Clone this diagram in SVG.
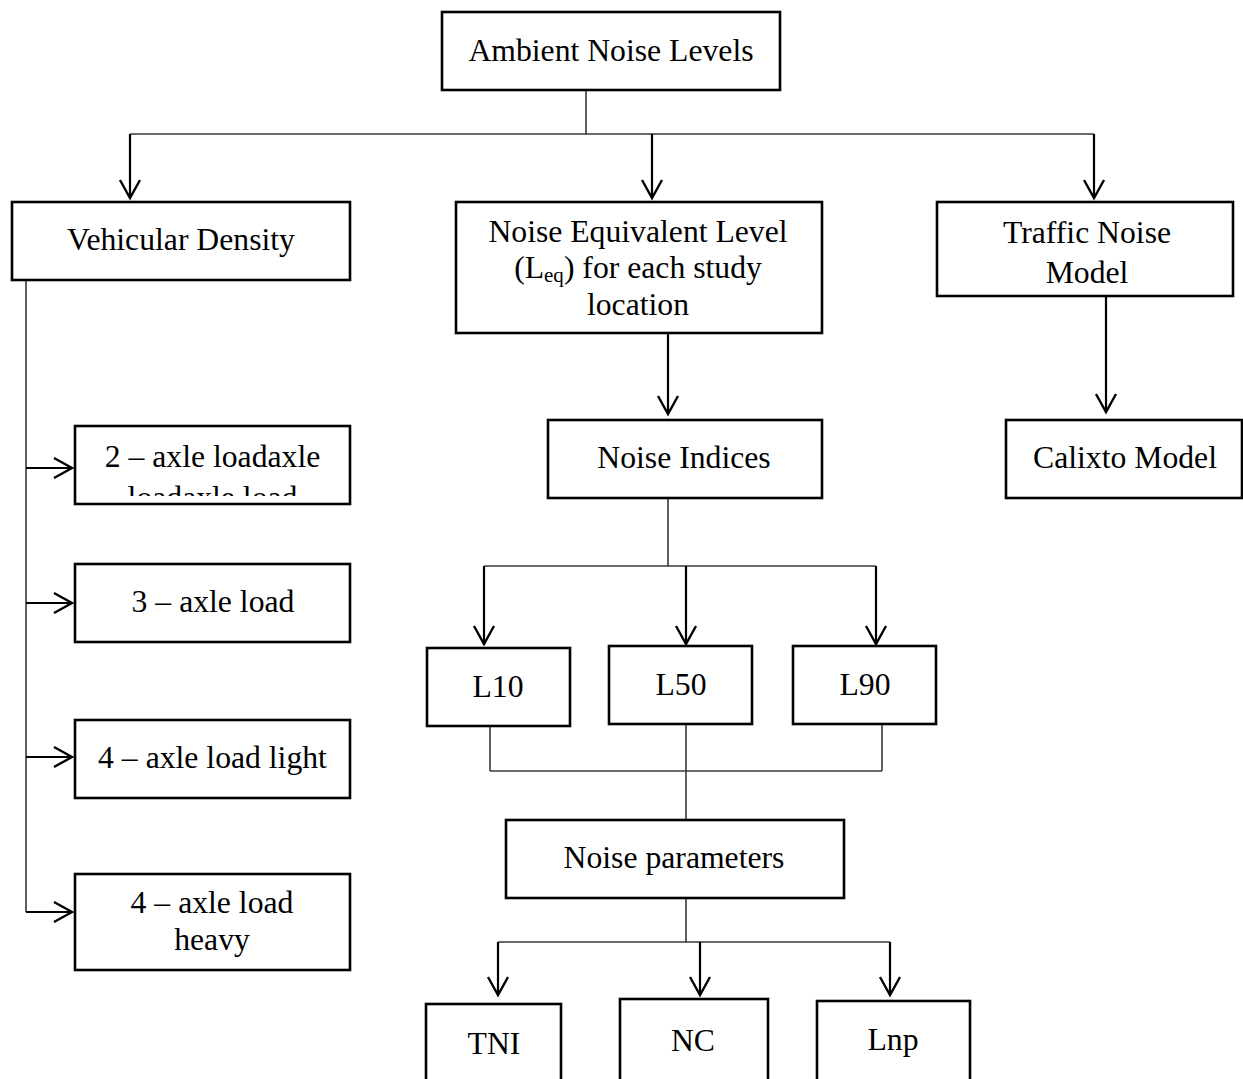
<svg xmlns="http://www.w3.org/2000/svg" width="1243" height="1079" viewBox="0 0 1243 1079">
<style>
.box{fill:#fff;stroke:#000;stroke-width:2.6}
.t{font-family:"Liberation Serif","Times New Roman",serif;font-size:31.7px;fill:#000;text-anchor:middle}
.sub{font-size:21px}
.ln{fill:none;stroke:#3a3a3a;stroke-width:1.6}
.ar{fill:none;stroke:#000;stroke-width:2.2;marker-end:url(#arr)}
</style>
<defs>
<marker id="arr" markerUnits="userSpaceOnUse" markerWidth="24" markerHeight="24" viewBox="-20 -12 24 24" refX="0" refY="0" orient="auto" overflow="visible">
<path d="M-18,-10 L0,0 L-18,10" fill="none" stroke="#000" stroke-width="2.4"/>
</marker>
<clipPath id="clip2"><rect x="75" y="426" width="275" height="70"/></clipPath>
</defs>
<g id="connectors">
<path class="ln" d="M586,90 V134 M130,134 H1094"/>
<path class="ar" d="M130,134 V198"/>
<path class="ar" d="M652,134 V198"/>
<path class="ar" d="M1094,134 V198"/>
<path class="ar" d="M668,333 V414"/>
<path class="ar" d="M1106,296 V412"/>
<path class="ln" d="M668,498 V566 M484,566 H876"/>
<path class="ar" d="M484,566 V644"/>
<path class="ar" d="M686,566 V644"/>
<path class="ar" d="M876,566 V644"/>
<path class="ln" d="M490,726 V771 M686,724 V771 M882,724 V771 M490,771 H882 M686,771 V820"/>
<path class="ln" d="M686,898 V942 M498,942 H890"/>
<path class="ar" d="M498,942 V995"/>
<path class="ar" d="M700,942 V995"/>
<path class="ar" d="M890,942 V995"/>
<path class="ln" d="M26,280 V912"/>
<path class="ar" d="M26,468 H72"/>
<path class="ar" d="M26,603 H72"/>
<path class="ar" d="M26,757 H72"/>
<path class="ar" d="M26,912 H72"/>
</g>
<g id="ambient"><rect class="box" x="442" y="12" width="338" height="78"/><text class="t" x="611" y="61">Ambient Noise Levels</text></g>
<g id="vehicular"><rect class="box" x="12" y="202" width="338" height="78"/><text class="t" x="181" y="250">Vehicular Density</text></g>
<g id="leq"><rect class="box" x="456" y="202" width="366" height="131"/>
<text class="t" x="638" y="242">Noise Equivalent Level</text>
<text class="t" x="638" y="278">(L<tspan class="sub" dy="4">eq</tspan><tspan dy="-4">) for each study</tspan></text>
<text class="t" x="638" y="315">location</text></g>
<g id="traffic"><rect class="box" x="937" y="202" width="296" height="94"/><text class="t" x="1087" y="243">Traffic Noise</text><text class="t" x="1087" y="283">Model</text></g>
<g id="calixto"><rect class="box" x="1006" y="420" width="236" height="78"/><text class="t" x="1125" y="468">Calixto Model</text></g>
<g id="indices"><rect class="box" x="548" y="420" width="274" height="78"/><text class="t" x="684" y="468">Noise Indices</text></g>
<g id="axle2"><rect class="box" x="75" y="426" width="275" height="78"/>
<g clip-path="url(#clip2)"><text class="t" x="212.5" y="467">2 – axle loadaxle</text><text class="t" x="212.5" y="508">loadaxle load</text></g></g>
<g id="axle3"><rect class="box" x="75" y="564" width="275" height="78"/><text class="t" x="213" y="612">3 – axle load</text></g>
<g id="axle4light"><rect class="box" x="75" y="720" width="275" height="78"/><text class="t" x="212.5" y="768">4 – axle load light</text></g>
<g id="axle4heavy"><rect class="box" x="75" y="874" width="275" height="96"/><text class="t" x="212" y="913">4 – axle load</text><text class="t" x="212" y="950">heavy</text></g>
<g id="l10"><rect class="box" x="427" y="648" width="143" height="78"/><text class="t" x="498" y="697">L10</text></g>
<g id="l50"><rect class="box" x="609" y="646" width="143" height="78"/><text class="t" x="681" y="695">L50</text></g>
<g id="l90"><rect class="box" x="793" y="646" width="143" height="78"/><text class="t" x="865" y="695">L90</text></g>
<g id="params"><rect class="box" x="506" y="820" width="338" height="78"/><text class="t" x="674" y="868">Noise parameters</text></g>
<g id="tni"><rect class="box" x="426" y="1004" width="135" height="100"/><text class="t" x="494" y="1054">TNI</text></g>
<g id="nc"><rect class="box" x="620" y="999" width="148" height="100"/><text class="t" x="693" y="1051">NC</text></g>
<g id="lnp"><rect class="box" x="817" y="1001" width="153" height="100"/><text class="t" x="893" y="1050">Lnp</text></g>
</svg>
